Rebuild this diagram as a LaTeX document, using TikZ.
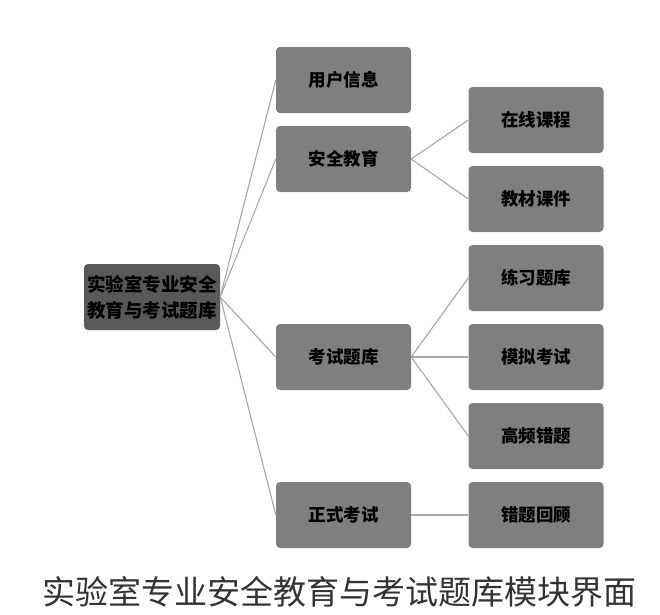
\documentclass[tikz,border=0pt]{standalone}
\usepackage{fontspec}
\newfontfamily\cjk{Noto Sans CJK SC}
\usepackage{xcolor}
\definecolor{colRoot}{HTML}{595959}
\definecolor{colBox}{HTML}{7F7F7F}
\definecolor{colLink}{HTML}{A6A6A6}
\definecolor{colCap}{HTML}{333333}
\usetikzlibrary{positioning}

\begin{document}
\begin{tikzpicture}[x=1pt, y=-1pt,
    box/.style={fill=colBox, rounded corners=4pt, minimum width=135pt, minimum height=66pt,
        font=\cjk\bfseries\fontsize{17.5}{21}\selectfont, text=black, inner sep=0pt},
    rootbox/.style={box, fill=colRoot, minimum width=136pt, align=center,
        font=\cjk\bfseries\fontsize{18.5}{26}\selectfont},
    link/.style={colLink, line width=1.1pt}]
    \useasboundingbox (0,0) rectangle (660,614);
    % Root
    \node[rootbox] (root) at (152,297) {实验室专业安全\\教育与考试题库};
    % First level
    \node[box] (user) at (343.5,80) {用户信息};
    \node[box] (safe) at (343.5,159) {安全教育};
    \node[box] (bank) at (343.5,357) {考试题库};
    \node[box] (exam) at (343.5,515) {正式考试};
    % Second level
    \node[box] (online) at (536,120) {在线课程};
    \node[box] (course) at (536,199) {教材课件};
    \node[box] (practice) at (536,278) {练习题库};
    \node[box] (mock) at (536,357) {模拟考试};
    \node[box] (wrong) at (536,436) {高频错题};
    \node[box] (review) at (536,515) {错题回顾};
    % Links
    \foreach \n in {user, safe, bank, exam}
        \draw[link] (root.east) -- (\n.west);
    \foreach \n in {online, course}
        \draw[link] (safe.east) -- (\n.west);
    \foreach \n in {practice, mock, wrong}
        \draw[link] (bank.east) -- (\n.west);
    \draw[link] (exam.east) -- (review.west);
    % Caption
    \node[font=\cjk\fontsize{33}{36}\selectfont, text=colCap] (title) at (339,592)
        {实验室专业安全教育与考试题库模块界面};
\end{tikzpicture}
\end{document}
